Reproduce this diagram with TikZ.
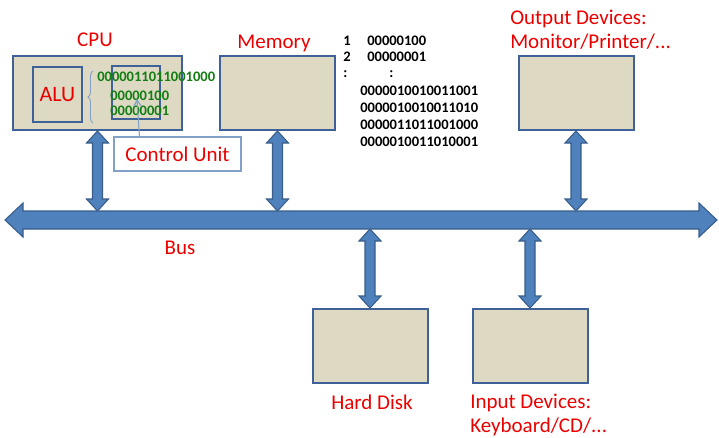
\documentclass[tikz,border=0pt]{standalone}
\usepackage{fontspec}
\setmainfont{Carlito}
\usetikzlibrary{calc,decorations.pathreplacing,arrows.meta}
\definecolor{boxfill}{RGB}{221,217,195}
\definecolor{boxline}{RGB}{62,98,152}
\definecolor{arrowfill}{RGB}{79,129,189}
\definecolor{arrowline}{RGB}{56,93,138}
\definecolor{labelred}{RGB}{235,0,0}
\definecolor{bitgreen}{RGB}{20,125,20}
\definecolor{paleblue}{RGB}{130,160,200}
% vertical block arrow with two heads, from a top point to a bottom point
\newcommand{\vbusarrow}[2]{%
  \draw[blockarrow] let \p1=(#1), \p2=(#2) in
    (\x1,\y1) -- (\x1+8.25pt,\y1-9pt) -- (\x1+3.75pt,\y1-9pt)
    -- (\x1+3.75pt,\y2+9pt) -- (\x1+8.25pt,\y2+9pt) -- (\x1,\y2)
    -- (\x1-8.25pt,\y2+9pt) -- (\x1-3.75pt,\y2+9pt)
    -- (\x1-3.75pt,\y1-9pt) -- (\x1-8.25pt,\y1-9pt) -- cycle;}
% horizontal block arrow with two heads (the bus)
\newcommand{\hbusarrow}[2]{%
  \draw[blockarrow] let \p1=(#1), \p2=(#2) in
    (\x1,\y1) -- (\x1+13.5pt,\y1+12.75pt) -- (\x1+13.5pt,\y1+6.75pt)
    -- (\x2-13.5pt,\y1+6.75pt) -- (\x2-13.5pt,\y1+12.75pt) -- (\x2,\y1)
    -- (\x2-13.5pt,\y1-12.75pt) -- (\x2-13.5pt,\y1-6.75pt)
    -- (\x1+13.5pt,\y1-6.75pt) -- (\x1+13.5pt,\y1-12.75pt) -- cycle;}
\begin{document}
\begin{tikzpicture}[x=0.75pt,y=-0.75pt]
	% one pixel of the picture
	\def\px{0.75pt}
	% styles
	\tikzstyle{unit} = [draw=boxline, fill=boxfill, line width=1.5pt, rectangle, minimum width=115*\px, minimum height=74*\px, inner sep=0pt];
	\tikzstyle{part} = [draw=boxline, line width=1.5pt, rectangle, inner sep=0pt];
	\tikzstyle{title} = [text=labelred, font=\fontsize{15.75}{18}\selectfont, inner sep=0pt];
	\tikzstyle{bits} = [font=\bfseries\fontsize{10.9}{12}\selectfont, inner sep=0pt, anchor=west];
	\tikzstyle{blockarrow} = [draw=arrowline, fill=arrowfill, line width=0.8pt, line join=miter];
	\useasboundingbox (0,0) rectangle (719,437);
	% units
	\node[unit, minimum width=169*\px] (cpu) at (97.5,93) { };
	\node[unit] (memory) at (277.5,93) { };
	\node[unit] (output) at (576,93) { };
	\node[unit] (disk) at (370,346) { };
	\node[unit] (input) at (530,346) { };
	% inside the cpu
	\node[part, minimum width=49*\px, minimum height=55*\px] (alu) at (57.5,94.5) { };
	\node[title, font=\fontsize{16.5}{18}\selectfont] at (alu.center) {ALU};
	\node[part, minimum width=48*\px, minimum height=53*\px] (cu) at (136,92.5) { };
	\draw[paleblue, line width=0.7pt, decorate, decoration={brace, amplitude=5*\px}] (93,123) -- (93,71);
	\node[bits, text=bitgreen] (cpubits) at (97,77) {0000011011001000};
	\node[bits, text=bitgreen] (cubitsa) at (110,96) {00000100};
	\node[bits, text=bitgreen] (cubitsb) at (110,111) {00000001};
	\node[draw=paleblue, fill=white, line width=0.8pt, minimum width=127*\px, minimum height=34*\px, inner sep=0pt] (culabel) at (177.5,154) { };
	\node[title] at (culabel.center) {Control Unit};
	\coordinate (cupoint) at (137,99);
	\draw[paleblue, line width=0.8pt, -{Straight Barb[length=5pt,width=6pt]}] ([xshift=26*\px]culabel.north west) -- (cupoint);
	% titles
	\node[title] at (95,40) {CPU};
	\node[title] at (274,43) {Memory};
	\node[title, align=left, anchor=west] at (510,30) {Output Devices:\\Monitor/Printer/...};
	\node[title] at (372,402) {Hard Disk};
	\node[title, align=left, anchor=west] at (470,415) {Input Devices:\\Keyboard/CD/...};
	\node[title] at (180,248) {Bus};
	% memory words
	\node[bits] (addra) at (343,41) {1};
	\node[bits] at (367,41) {00000100};
	\node[bits] (addrb) at (343,57) {2};
	\node[bits] at (367,57) {00000001};
	\node[bits] (addrc) at (343,74) {:};
	\node[bits] at (389,74) {:};
	\foreach \word [count=\i] in {0000010010011001,0000010010011010,0000011011001000,0000010011010001} {
		\node[bits] (word\i) at (360,74+17*\i) {\word};
	}
	% bus
	\coordinate (busL) at (5,220);
	\coordinate (busR) at (717,220);
	\coordinate (bustop) at (0,211);
	\coordinate (busbot) at (0,229);
	\vbusarrow{cpu.south}{cpu.south |- bustop}
	\vbusarrow{memory.south}{memory.south |- bustop}
	\vbusarrow{output.south}{output.south |- bustop}
	\vbusarrow{disk.north |- busbot}{disk.north}
	\vbusarrow{input.north |- busbot}{input.north}
	\hbusarrow{busL}{busR}
\end{tikzpicture}
\end{document}
